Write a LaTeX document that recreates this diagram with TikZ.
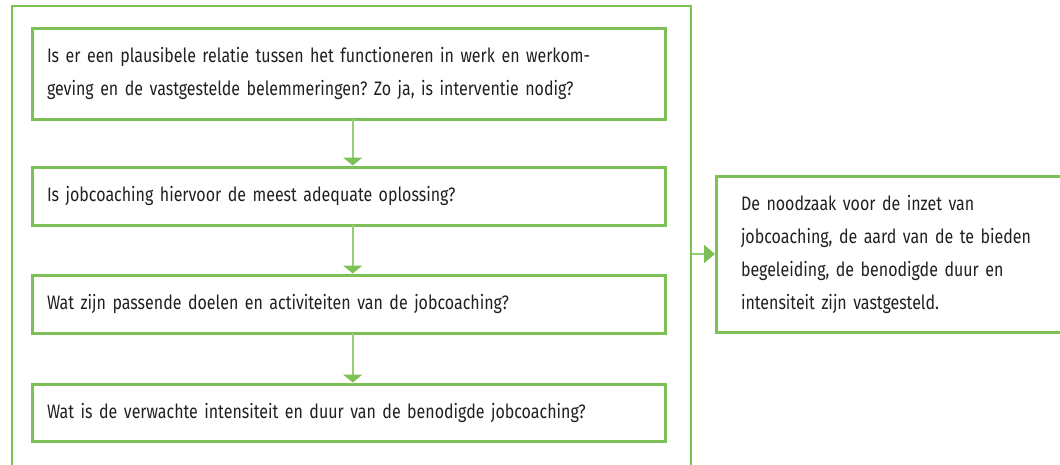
\documentclass[tikz,border=0pt]{standalone}
\usepackage{fontspec}
\newfontfamily\qfont[FakeStretch=0.82]{Fira Sans}
\usetikzlibrary{arrows.meta}
\definecolor{gr}{RGB}{124,192,86}
\definecolor{grl}{RGB}{150,206,120}
\definecolor{tx}{RGB}{35,31,32}
\frenchspacing
\begin{document}
\begin{tikzpicture}[x=1pt,y=1pt,
  txt/.style={font=\qfont\fontsize{19.5}{33}\selectfont\frenchspacing, text=tx},
  qbox/.style={txt, draw=gr, line width=3pt, outer sep=0pt, minimum width=632.5pt,
    text width=603.5pt, inner xsep=14.5pt, inner ysep=0pt, align=left, anchor=north west},
  frame/.style={draw=gr, line width=2.6pt, outer sep=0pt, anchor=north west, inner sep=0pt},
  rbox/.style={txt, draw=gr, line width=3pt, outer sep=0pt, minimum width=363.5pt,
    minimum height=156pt, text width=314.5pt, inner xsep=24.5pt, inner ysep=0pt,
    align=left, anchor=north west},
  arr/.style={draw=grl, line width=2pt, shorten >=1.5pt, -{Triangle[width=19pt,length=8pt,color=gr]}},
  arrh/.style={draw=grl, line width=2pt, shorten >=1.5pt, shorten <=1.3pt, -{Triangle[width=18pt,length=11pt,color=gr]}}
]
\clip (0,0) rectangle (1060,-464);
\node[frame, minimum width=679pt, minimum height=480pt] (fr) at (12,-6) {};
\node[qbox, minimum height=91pt] (b1) at (32.5,-28)
  {Is er een plausibele relatie tussen het functioneren in werk en werkom-\\
   geving en de vastgestelde belemmeringen? Zo ja, is interventie nodig?};
\node[qbox, minimum height=58pt] (b2) at (32.5,-167)
  {Is jobcoaching hiervoor de meest adequate oplossing?};
\node[qbox, minimum height=58pt] (b3) at (32.5,-275)
  {Wat zijn passende doelen en activiteiten van de jobcoaching?};
\node[qbox, minimum height=57pt] (b4) at (32.5,-384)
  {Wat is de verwachte intensiteit en duur van de benodigde jobcoaching?};
\node[rbox] (rb) at (716.5,-176)
  {De noodzaak voor de inzet van\\
   jobcoaching, de aard van de te bieden\\
   begeleiding, de benodigde duur en\\
   intensiteit zijn vastgesteld.};
\draw[arr] ([xshift=4pt]b1.south) -- ([xshift=4pt]b2.north);
\draw[arr] ([xshift=4pt]b2.south) -- ([xshift=4pt]b3.north);
\draw[arr] ([xshift=4pt]b3.south) -- ([xshift=4pt]b4.north);
\draw[arrh] (fr.east |- rb.west) -- (rb.west);
\end{tikzpicture}
\end{document}
